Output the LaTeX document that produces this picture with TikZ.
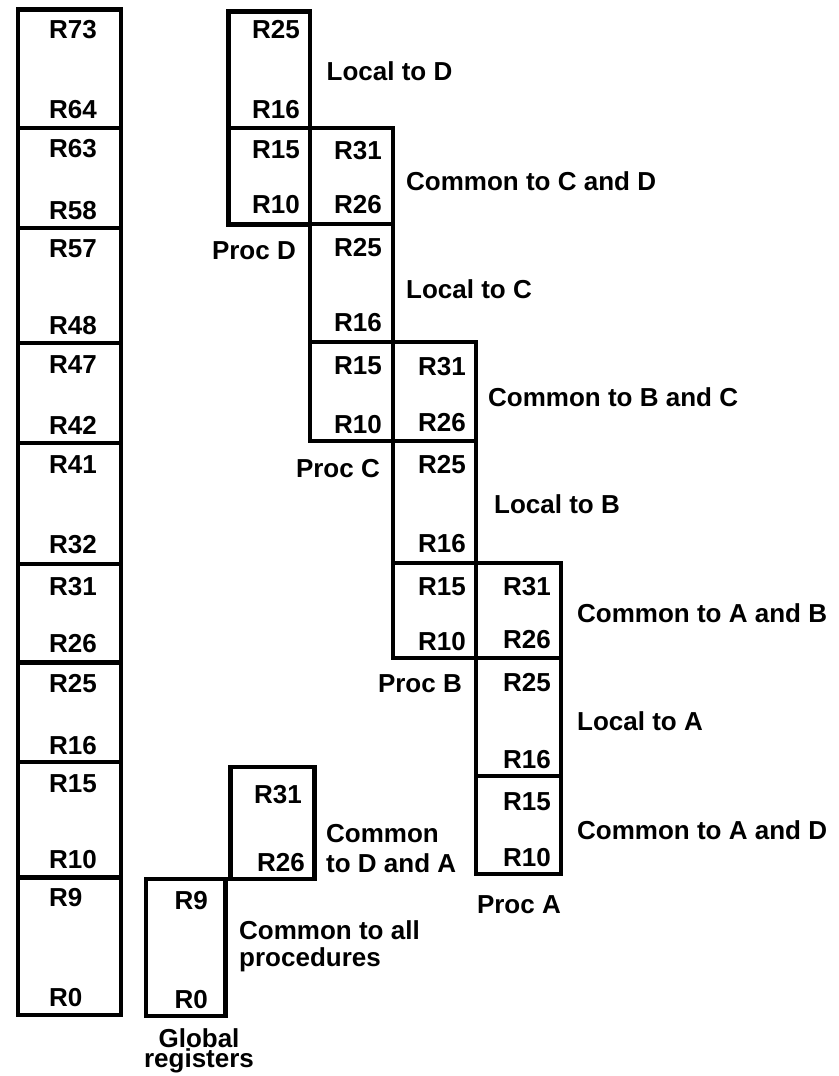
\documentclass[tikz,border=0pt]{standalone}
\usepackage{fontspec}
\setmainfont{Liberation Sans}
\usepackage{tikz}

\tikzset{
  regbox/.style={draw, line width=4.5pt},
  regname/.style={inner sep=0pt, font=\bfseries\fontsize{26}{28}\selectfont},
  part/.style={inner sep=0pt, align=left, font=\bfseries\fontsize{26}{28}\selectfont},
}

\begin{document}
\begin{tikzpicture}[x=1pt,y=-1pt]
    \useasboundingbox (0,0) rectangle (838,1076);

    % Full register file
    \draw[regbox] (18,9.5) rectangle (121,128);
    \draw[regbox] (18,128) rectangle (121,228);
    \draw[regbox] (18,228) rectangle (121,343);
    \draw[regbox] (18,343) rectangle (121,443);
    \draw[regbox] (18,443) rectangle (121,564);
    \draw[regbox] (18,564) rectangle (121,662.5);
    \draw[regbox] (18,662.5) rectangle (121,762);
    \draw[regbox] (18,762) rectangle (121,877.5);
    \draw[regbox] (18,877.5) rectangle (121,1015);
    \node[regname,anchor=base west] (f73) at (49,38.5) {R73};
    \node[regname,anchor=base west] (f64) at (49,118) {R64};
    \node[regname,anchor=base west] (f63) at (49,157.5) {R63};
    \node[regname,anchor=base west] (f58) at (49,219) {R58};
    \node[regname,anchor=base west] (f57) at (49,257) {R57};
    \node[regname,anchor=base west] (f48) at (49,334) {R48};
    \node[regname,anchor=base west] (f47) at (49,373) {R47};
    \node[regname,anchor=base west] (f42) at (49,434) {R42};
    \node[regname,anchor=base west] (f41) at (49,473) {R41};
    \node[regname,anchor=base west] (f32) at (49,553.5) {R32};
    \node[regname,anchor=base west] (f31) at (49,595) {R31};
    \node[regname,anchor=base west] (f26) at (49,652.5) {R26};
    \node[regname,anchor=base west] (f25) at (49,692.5) {R25};
    \node[regname,anchor=base west] (f16) at (49,754) {R16};
    \node[regname,anchor=base west] (f15) at (49,792) {R15};
    \node[regname,anchor=base west] (f10) at (49,868.5) {R10};
    \node[regname,anchor=base west] (f9) at (49,906.5) {R9};
    \node[regname,anchor=base west] (f0) at (49,1006) {R0};

    % Proc D
    \draw[regbox] (228.5,11.5) rectangle (310,128);
    \draw[regbox] (228.5,128) rectangle (310,224.5);
    \node[regname,anchor=base east] (d25) at (300,38) {R25};
    \node[regname,anchor=base east] (d16) at (300,118) {R16};
    \node[regname,anchor=base east] (d15) at (300,158) {R15};
    \node[regname,anchor=base east] (d10) at (300,213) {R10};
    \node[regname,anchor=base east] (procd) at (296,259) {Proc D};

    % Proc C
    \draw[regbox] (310,128) rectangle (393,224);
    \draw[regbox] (310,224) rectangle (393,342);
    \draw[regbox] (310,342) rectangle (393,441);
    \node[regname,anchor=base east] (c31) at (382,159) {R31};
    \node[regname,anchor=base east] (c26) at (382,213) {R26};
    \node[regname,anchor=base east] (c25) at (382,256) {R25};
    \node[regname,anchor=base east] (c16) at (382,331) {R16};
    \node[regname,anchor=base east] (c15) at (382,374) {R15};
    \node[regname,anchor=base east] (c10) at (382,433) {R10};
    \node[regname,anchor=base east] (procc) at (380,477) {Proc C};

    % Proc B
    \draw[regbox] (393,342) rectangle (476,441);
    \draw[regbox] (393,441) rectangle (476,563);
    \draw[regbox] (393,563) rectangle (476,658);
    \node[regname,anchor=base east] (b31) at (466,375) {R31};
    \node[regname,anchor=base east] (b26) at (466,431) {R26};
    \node[regname,anchor=base east] (b25) at (466,473) {R25};
    \node[regname,anchor=base east] (b16) at (466,552) {R16};
    \node[regname,anchor=base east] (b15) at (466,595) {R15};
    \node[regname,anchor=base east] (b10) at (466,650) {R10};
    \node[regname,anchor=base east] (procb) at (462,692) {Proc B};

    % Proc A
    \draw[regbox] (476,563) rectangle (561,658);
    \draw[regbox] (476,658) rectangle (561,776);
    \draw[regbox] (476,776) rectangle (561,874);
    \node[regname,anchor=base east] (a31) at (551,595) {R31};
    \node[regname,anchor=base east] (a26) at (551,648) {R26};
    \node[regname,anchor=base east] (a25) at (551,691) {R25};
    \node[regname,anchor=base east] (a16) at (551,768) {R16};
    \node[regname,anchor=base east] (a15) at (551,810) {R15};
    \node[regname,anchor=base east] (a10) at (551,866) {R10};
    \node[regname,anchor=base east] (proca) at (561,913) {Proc A};

    % Shared between D and A, and the globals
    \draw[regbox] (230.5,767) rectangle (314.5,879);
    \draw[regbox] (146,879) rectangle (225.5,1016);
    \node[regname,anchor=base east] (da31) at (302,803) {R31};
    \node[regname,anchor=base east] (da26) at (305,871) {R26};
    \node[regname,anchor=base east] (g9) at (208,909) {R9};
    \node[regname,anchor=base east] (g0) at (208,1008) {R0};

    % What each block is
    \node[part,anchor=base west] (locd) at (326.5,80) {Local to D};
    \node[part,anchor=base west] (comcd) at (406,190) {Common to C and D};
    \node[part,anchor=base west] (locc) at (406,298) {Local to C};
    \node[part,anchor=base west] (combc) at (488,406) {Common to B and C};
    \node[part,anchor=base west] (locb) at (494,513) {Local to B};
    \node[part,anchor=base west] (comab) at (577,622.5) {Common to A and B};
    \node[part,anchor=base west] (loca) at (577,730.5) {Local to A};
    \node[part,anchor=base west] (comad) at (577,839) {Common to A and D};
    \node[part,anchor=west,font=\bfseries\fontsize{26}{29.4}\selectfont] (comda) at (326,848.5) {Common\\to D and A};
    \node[part,anchor=west,font=\bfseries\fontsize{26}{27.4}\selectfont] (comall) at (239,946.3) {Common to all\\procedures};
    \node[part,align=center,font=\bfseries\fontsize{26}{20}\selectfont] (glob) at (199,1050.7) {Global\\registers};
\end{tikzpicture}
\end{document}
